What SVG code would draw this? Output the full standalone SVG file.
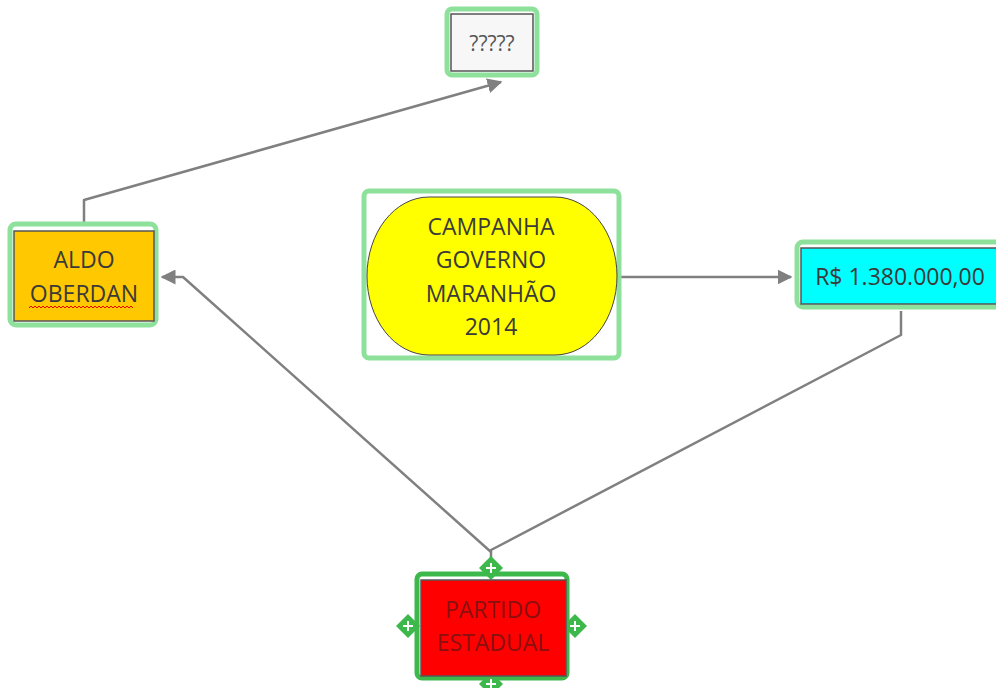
<svg xmlns="http://www.w3.org/2000/svg" width="996" height="688" viewBox="0 0 996 688">
<defs>
<style>
.frame{fill:none;stroke:#8ee19b;stroke-width:5}
.inner{stroke:#555;stroke-width:1.5}
.lbl{font-family:"Open Sans","Noto Sans",sans-serif;font-size:23px;fill:#3a3a3a;text-anchor:middle}
.con{fill:none;stroke:#808080;stroke-width:2.5;stroke-linejoin:round}
</style>
<marker id="ah" viewBox="0 0 10 10" refX="9" refY="5" markerWidth="6" markerHeight="6" orient="auto" markerUnits="strokeWidth">
<path d="M0,0 L10,5 L0,10 z" fill="#808080"/>
</marker>
</defs>
<rect width="996" height="688" fill="#fff"/>
<g id="connectors">
<path class="con" d="M84,222 L84,200 L501,82" marker-end="url(#ah)"/>
<path class="con" d="M491,552 L183,277 L162,277" marker-end="url(#ah)"/>
<path class="con" d="M621,277 L791,277" marker-end="url(#ah)"/>
<path class="con" d="M901,311 L901,335 L491,550 L491,572"/>
</g>
<g id="n1">
<rect class="frame" x="447" y="9" width="90" height="66" rx="5"/>
<rect class="inner" x="451" y="14" width="82" height="57" fill="#f7f7f7"/>
<text class="lbl" x="492" y="51" style="font-size:21px;fill:#555">?????</text>
</g>
<g id="n2">
<rect class="frame" x="10" y="224" width="146" height="101" rx="6"/>
<rect class="inner" x="14" y="231" width="140" height="90" fill="#ffc800"/>
<text class="lbl" x="84" y="268">ALDO</text>
<text class="lbl" x="84" y="302">OBERDAN</text>
<path d="M29,308 l2,-2 l2,2 l2,-2 l2,2 l2,-2 l2,2 l2,-2 l2,2 l2,-2 l2,2 l2,-2 l2,2 l2,-2 l2,2 l2,-2 l2,2 l2,-2 l2,2 l2,-2 l2,2 l2,-2 l2,2 l2,-2 l2,2 l2,-2 l2,2 l2,-2 l2,2 l2,-2 l2,2 l2,-2 l2,2 l2,-2 l2,2 l2,-2 l2,2 l2,-2 l2,2 l2,-2 l2,2 l2,-2 l2,2 l2,-2 l2,2 l2,-2 l2,2 l2,-2 l2,2 l2,-2 l2,2 l2,-2 l2,2" fill="none" stroke="#e00" stroke-width="1"/>
</g>
<g id="n3">
<rect class="frame" x="364" y="191" width="255" height="167" rx="5" style="fill:#fff"/>
<rect x="367" y="197" width="250" height="158" rx="62" ry="79" fill="#ffff00" stroke="#444" stroke-width="1"/>
<text class="lbl" x="491" y="235">CAMPANHA</text>
<text class="lbl" x="491" y="268">GOVERNO</text>
<text class="lbl" x="491" y="302">MARANHÃO</text>
<text class="lbl" x="491" y="335">2014</text>
</g>
<g id="n4">
<rect class="frame" x="797" y="242" width="210" height="65" rx="6"/>
<rect class="inner" x="801" y="248" width="200" height="56" fill="#00ffff"/>
<text class="lbl" x="900" y="285">R$ 1.380.000,00</text>
</g>
<g id="n5">
<g fill="#3cb94a">
<path d="M491,556 L503,568 L491,580 L479,568 z"/>
<path d="M491,672 L503,684 L491,696 L479,684 z"/>
<path d="M408,614 L420,626 L408,638 L396,626 z"/>
<path d="M575,614 L587,626 L575,638 L563,626 z"/>
</g>
<rect x="417" y="574" width="150" height="104" rx="5" fill="none" stroke="#3cb94a" stroke-width="5"/>
<rect class="inner" x="421" y="580" width="145" height="96" fill="#ff0000"/>
<g stroke="#fff" stroke-width="2">
<path d="M486,568 h10 M491,563 v10"/>
<path d="M486,684 h10 M491,679 v10"/>
<path d="M403,626 h10 M408,621 v10"/>
<path d="M570,626 h10 M575,621 v10"/>
</g>
<text class="lbl" x="493" y="618" style="fill:#8a1010">PARTIDO</text>
<text class="lbl" x="493" y="651" style="fill:#8a1010">ESTADUAL</text>
</g>
</svg>
